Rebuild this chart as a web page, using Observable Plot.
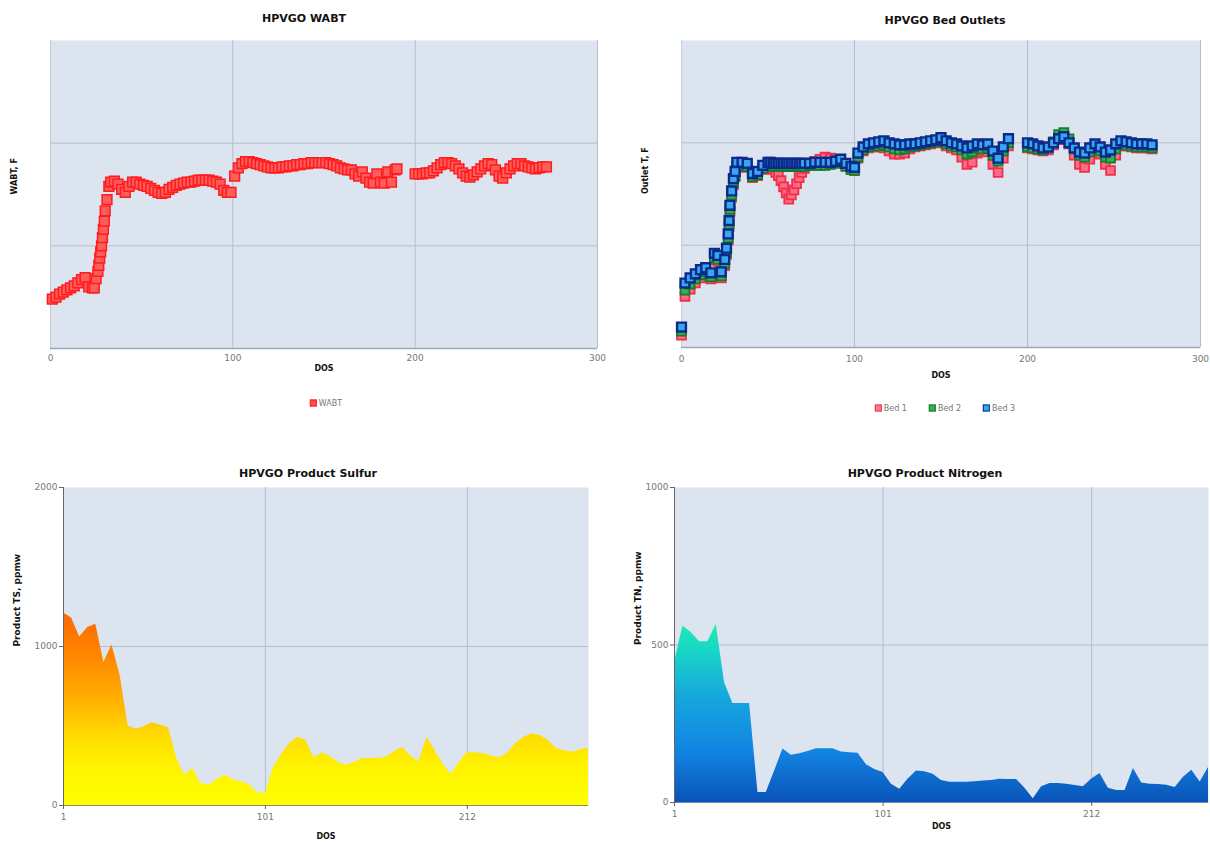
<!DOCTYPE html>
<html>
<head>
<meta charset="utf-8">
<script src="https://cdn.jsdelivr.net/npm/d3@7"></script>
<script src="https://cdn.jsdelivr.net/npm/@observablehq/plot@0.6"></script>
<style>
  body { margin: 0; width: 1210px; height: 842px; background: #fff; position: relative; overflow: hidden;
         font-family: "DejaVu Sans", Verdana, sans-serif; }
  .title { position: absolute; font-weight: bold; font-size: 11px; color: #111; transform: translate(-50%, -50%); white-space: nowrap; }
  .legend { position: absolute; font-size: 8px; color: #777; transform: translate(-50%, -50%); white-space: nowrap; display: flex; gap: 22px; align-items: center; }
  .legend .sw { display: inline-block; width: 5px; height: 5px; margin-right: 2px; vertical-align: middle; }
</style>
</head>
<body>
<script>
// ---------------- DATA ----------------
// Top-left: HPVGO WABT (DOS vs WABT, F)
const wabtDos = [
  1,3,5,7,9,11,13,15,17,19,
  21,23,24,25,26,26.5,27,27.5,28,28.5,
  29,29.5,30,31,32,33,35,37,39,41,
  43,45,47,49,51,53,55,57,59,61,
  63,65,67,69,71,73,75,77,79,81,
  83,85,87,89,91,93,95,97,99,101,
  103,105,107,109,111,113,115,117,119,121,
  123,125,127,129,131,133,135,137,139,141,
  143,145,147,149,151,153,155,157,159,161,
  163,165,167,169,171,173,175,177,179,181,
  183,185,187,189,190,200,202,204,206,208,
  210,212,214,216,218,220,222,224,226,228,
  230,232,234,236,238,240,242,244,246,248,
  250,252,254,256,258,260,262,264,266,268,
  270,272
];
const wabtF = [
  648,650,653,655,657,659,661,664,667,669,
  660,659,659,668,675,681,688,694,700,708,
  716,724,734,745,758,762,763,760,755,752,
  758,762,762,760,759,758,756,754,752,751,
  752,755,757,759,760,761,762,762,763,764,
  764,764,764,763,762,760,754,752,752,768,
  776,780,782,782,781,780,779,778,777,776,
  776,776,777,777,778,778,779,779,780,780,
  781,781,781,781,781,780,779,778,776,775,
  774,774,770,768,772,766,762,761,770,762,
  761,772,762,774,775,770,770,770,771,771,
  773,776,779,781,781,780,778,775,771,768,
  767,769,772,775,778,780,779,774,768,766,
  771,775,778,780,780,778,777,776,775,776,
  777,777
];

// Top-right: HPVGO Bed Outlets (DOS vs outlet T, F)
const bedDos = [
  0,2,5,8,11,14,17,19,21,23,
  25,26,27,27.5,28,29,30,31,32,35,
  38,41,44,47,50,51.5,53,54.5,56,57.5,
  59,60.5,62,63.5,65,66.5,68,69.5,71,74,
  77,80,83,86,89,92,95,98,100,102,
  105,108,111,114,117,120,123,126,129,132,
  135,138,141,144,147,150,153,156,159,162,
  165,168,171,174,177,180,183,186,189,200,
  203,206,209,212,215,218,221,224,227,230,
  233,236,239,242,245,248,251,254,257,260,
  263,266,269,272
];
const bed1 = [
  612,650,657,663,668,671,667,686,684,668,
  680,691,705,718,733,747,759,767,776,777,
  776,766,768,774,777,776,774,771,768,763,
  757,751,745,749,754,760,766,771,775,779,
  782,784,786,785,784,783,778,774,773,785,
  792,795,796,796,795,792,789,789,790,794,
  796,797,798,799,800,801,797,795,793,786,
  779,781,790,792,791,779,771,785,797,795,
  794,793,792,793,798,803,805,799,788,779,
  776,784,794,789,779,773,788,797,797,796,
  795,795,795,794
];
const bed2 = [
  616,656,662,667,671,674,669,688,686,670,
  682,693,707,720,735,749,761,768,777,778,
  777,767,769,775,778,778,777,777,777,777,
  777,777,777,777,777,777,777,777,777,778,
  778,778,778,779,780,781,777,774,773,786,
  793,796,797,797,798,796,794,793,794,796,
  797,798,799,800,801,802,799,797,796,793,
  789,791,795,794,795,788,782,792,800,796,
  795,794,793,795,801,808,810,804,794,788,
  786,791,796,792,786,785,794,799,798,797,
  796,796,796,795
];
const bed3 = [
  620,663,668,672,676,678,673,692,690,674,
  686,697,711,724,739,753,765,772,781,781,
  780,770,772,778,781,781,780,780,780,780,
  780,780,780,780,780,780,780,780,780,780,
  781,781,781,781,782,784,780,777,776,790,
  796,799,800,801,802,800,799,798,798,799,
  799,800,801,802,803,805,802,800,799,797,
  795,797,799,798,799,792,785,796,804,800,
  799,797,795,796,800,804,806,800,795,791,
  790,795,799,796,791,793,799,802,801,800,
  799,799,799,798
];
const topXTicks = [0, 100, 200, 300];
const tempGridTicks = [700, 800];

// Bottom-left: HPVGO Product Sulfur (sample sequence, ppmw)
const sulfurPpm = [
  1210,1180,1060,1120,1140,900,1010,820,500,480,
  495,520,505,490,300,190,235,140,128,165,
  190,160,150,130,80,75,240,320,390,430,
  410,300,330,310,270,255,270,296,296,296,
  305,340,365,310,275,430,346,260,195,270,
  333,330,327,310,300,330,390,430,450,440,
  410,360,345,335,350,360
];
const sulfurTickPos = [0, 25, 50];
const sulfurTickLabels = ["1", "101", "212"];
const sulfurYTicks = [0, 1000, 2000];

// Bottom-right: HPVGO Product Nitrogen (sample sequence, ppmw)
const nitrogenPpm = [
  444,560,540,510,510,565,380,314,314,314,
  32,32,100,170,150,155,162,171,171,171,
  160,158,156,120,105,95,58,42,75,100,
  98,90,70,64,64,64,66,68,70,74,
  73,73,45,12,50,60,60,58,54,50,
  75,92,45,38,38,108,62,58,57,55,
  48,80,102,65,111
];
const nitrogenTickPos = [0, 25, 50];
const nitrogenTickLabels = ["1", "101", "212"];
const nitrogenYTicks = [0, 500, 1000];

// ---------------- STYLE ----------------
const BG = "#dce4ef";
const GRID = "#b3bece";
const FONT = "DejaVu Sans, Verdana, sans-serif";
const baseStyle = {background: "transparent", fontFamily: FONT, fontSize: "9px", color: "#777", overflow: "visible"};

function place(svg, left, top) {
  svg.style.position = "absolute";
  svg.style.left = left + "px";
  svg.style.top = top + "px";
  document.body.appendChild(svg);
}
function addDiv(cls, html, x, y) {
  const d = document.createElement("div");
  d.className = cls;
  d.innerHTML = html;
  d.style.left = x + "px";
  d.style.top = y + "px";
  document.body.appendChild(d);
}
function addGradient(svg, id, stops) {
  const defs = d3.select(svg).insert("defs", ":first-child");
  const g = defs.append("linearGradient").attr("id", id)
    .attr("x1", 0).attr("y1", 0).attr("x2", 0).attr("y2", 1);
  stops.forEach(([o, c]) => g.append("stop").attr("offset", o).attr("stop-color", c));
}
function axisTitleX(t, dy, size) {
  return Plot.text([t], {text: d => d, frameAnchor: "bottom", dy, fontWeight: "bold", fontSize: size, fill: "#111"});
}
function axisTitleY(t, dx, size) {
  return Plot.text([t], {text: d => d, frameAnchor: "left", rotate: -90, dx, fontWeight: "bold", fontSize: size, fill: "#111"});
}
const plainNum = d => String(d);

// ---------------- CHART A: WABT ----------------
const wabtRows = wabtDos.map((d, i) => ({dos: d, t: wabtF[i]}));
const svgA = Plot.plot({
  width: 605, height: 360, marginLeft: 50, marginRight: 8, marginTop: 10, marginBottom: 42,
  style: baseStyle,
  x: {domain: [0, 300], axis: null},
  y: {domain: [600, 900], axis: null},
  marks: [
    Plot.frame({fill: BG, stroke: null}),
    Plot.gridX({ticks: topXTicks, stroke: GRID, strokeOpacity: 1}),
    Plot.gridY({ticks: tempGridTicks, stroke: GRID, strokeOpacity: 1}),
    Plot.ruleX([0], {stroke: "#c4ccd8"}),
    Plot.ruleY([600], {stroke: "#9ba7b8", strokeWidth: 1.5}),
    Plot.axisX({ticks: topXTicks, tickSize: 0, tickPadding: 6, label: null, fill: "#777"}),
    Plot.dot(wabtRows, {x: "dos", y: "t", symbol: "square", r: 5.5, fill: "#ff5c5c", stroke: "#ff1c1c", strokeWidth: 1.5}),
    axisTitleX("DOS", 22, 8),
    axisTitleY("WABT, F", -36, 8)
  ]
});
place(svgA, 0, 30);
addDiv("title", "HPVGO WABT", 304, 18);
addDiv("legend", '<span><span class="sw" style="background:#ff5050;border:1px solid #ff1c1c"></span>WABT</span>', 326, 403);

// ---------------- CHART B: Bed outlets ----------------
const bedRows1 = bedDos.map((d, i) => ({dos: d, t: bed1[i]}));
const bedRows2 = bedDos.map((d, i) => ({dos: d, t: bed2[i]}));
const bedRows3 = bedDos.map((d, i) => ({dos: d, t: bed3[i]}));
const svgB = Plot.plot({
  width: 605, height: 360, marginLeft: 76, marginRight: 10, marginTop: 10, marginBottom: 43,
  style: baseStyle,
  x: {domain: [0, 300], axis: null},
  y: {domain: [600, 900], axis: null},
  marks: [
    Plot.frame({fill: BG, stroke: null}),
    Plot.gridX({ticks: topXTicks, stroke: GRID, strokeOpacity: 1}),
    Plot.gridY({ticks: tempGridTicks, stroke: GRID, strokeOpacity: 1}),
    Plot.ruleX([0], {stroke: "#c4ccd8"}),
    Plot.ruleY([600], {stroke: "#9ba7b8", strokeWidth: 1.5}),
    Plot.axisX({ticks: topXTicks, tickSize: 0, tickPadding: 8, label: null, fill: "#777"}),
    Plot.dot(bedRows1, {x: "dos", y: "t", symbol: "square", r: 5, fill: "#ff6a86", stroke: "#f0304a", strokeWidth: 1.8}),
    Plot.dot(bedRows2, {x: "dos", y: "t", symbol: "square", r: 5, fill: "#34b050", stroke: "#177a2c", strokeWidth: 1.8}),
    Plot.dot(bedRows3, {x: "dos", y: "t", symbol: "square", r: 5, fill: "#38a8ee", stroke: "#0b2a8c", strokeWidth: 2.4}),
    axisTitleX("DOS", 30, 8),
    axisTitleY("Outlet T, F", -36, 8)
  ]
});
place(svgB, 605, 30);
addDiv("title", "HPVGO Bed Outlets", 945, 20);
addDiv("legend",
  '<span><span class="sw" style="background:#ff7890;border:1px solid #f0304a"></span>Bed 1</span>' +
  '<span><span class="sw" style="background:#34b050;border:1px solid #177a2c"></span>Bed 2</span>' +
  '<span><span class="sw" style="background:#38a8ee;border:1px solid #0b2a8c"></span>Bed 3</span>',
  945, 408);

// ---------------- CHART C: Sulfur ----------------
const sulfurRows = sulfurPpm.map((v, i) => ({i, v}));
const svgC = Plot.plot({
  width: 605, height: 362, marginLeft: 63, marginRight: 17, marginTop: 7, marginBottom: 37,
  style: baseStyle,
  x: {domain: [0, sulfurPpm.length - 1], axis: null},
  y: {domain: [0, 2000], axis: null},
  marks: [
    Plot.frame({fill: BG, stroke: null}),
    Plot.gridX({ticks: sulfurTickPos.slice(1), stroke: GRID, strokeOpacity: 1}),
    Plot.gridY({ticks: [1000], stroke: GRID, strokeOpacity: 1}),
    Plot.areaY(sulfurRows, {x: "i", y: "v", fill: "url(#gradSulfur)"}),
    Plot.ruleX([0], {stroke: "#666"}),
    Plot.ruleY([0], {stroke: "#8a8a70"}),
    Plot.axisY({ticks: sulfurYTicks, tickSize: 4, tickPadding: 2, label: null, fill: "#777", stroke: "#666", tickFormat: plainNum}),
    Plot.axisX({ticks: sulfurTickPos, tickSize: 4, tickPadding: 4, label: null, fill: "#777", stroke: "#666",
                tickFormat: d => sulfurTickLabels[sulfurTickPos.indexOf(d)]}),
    axisTitleX("DOS", 33, 8),
    axisTitleY("Product TS, ppmw", -46, 9)
  ]
});
addGradient(svgC, "gradSulfur", [[0, "#ff6800"], [0.2, "#ff8300"], [0.45, "#ffb000"], [0.65, "#ffde00"], [0.8, "#fff200"], [1, "#ffff00"]]);
place(svgC, 0, 480);
addDiv("title", "HPVGO Product Sulfur", 308, 473);

// ---------------- CHART D: Nitrogen ----------------
const nitrogenRows = nitrogenPpm.map((v, i) => ({i, v}));
const svgD = Plot.plot({
  width: 605, height: 362, marginLeft: 69, marginRight: 2, marginTop: 7, marginBottom: 40,
  style: baseStyle,
  x: {domain: [0, nitrogenPpm.length - 1], axis: null},
  y: {domain: [0, 1000], axis: null},
  marks: [
    Plot.frame({fill: BG, stroke: null}),
    Plot.gridX({ticks: nitrogenTickPos.slice(1), stroke: GRID, strokeOpacity: 1}),
    Plot.gridY({ticks: [500], stroke: GRID, strokeOpacity: 1}),
    Plot.areaY(nitrogenRows, {x: "i", y: "v", fill: "url(#gradNitrogen)"}),
    Plot.ruleX([0], {stroke: "#666"}),
    Plot.ruleY([0], {stroke: "#7a8aa0"}),
    Plot.axisY({ticks: nitrogenYTicks, tickSize: 4, tickPadding: 2, label: null, fill: "#777", stroke: "#666", tickFormat: plainNum}),
    Plot.axisX({ticks: nitrogenTickPos, tickSize: 4, tickPadding: 4, label: null, fill: "#777", stroke: "#666",
                tickFormat: d => nitrogenTickLabels[nitrogenTickPos.indexOf(d)]}),
    axisTitleX("DOS", 26, 8),
    axisTitleY("Product TN, ppmw", -36, 9)
  ]
});
addGradient(svgD, "gradNitrogen", [[0, "#22eab0"], [0.15, "#18d6c6"], [0.4, "#16a8dc"], [0.7, "#1286e4"], [1, "#0a54b8"]]);
place(svgD, 605, 480);
addDiv("title", "HPVGO Product Nitrogen", 925, 473);
</script>
</body>
</html>
